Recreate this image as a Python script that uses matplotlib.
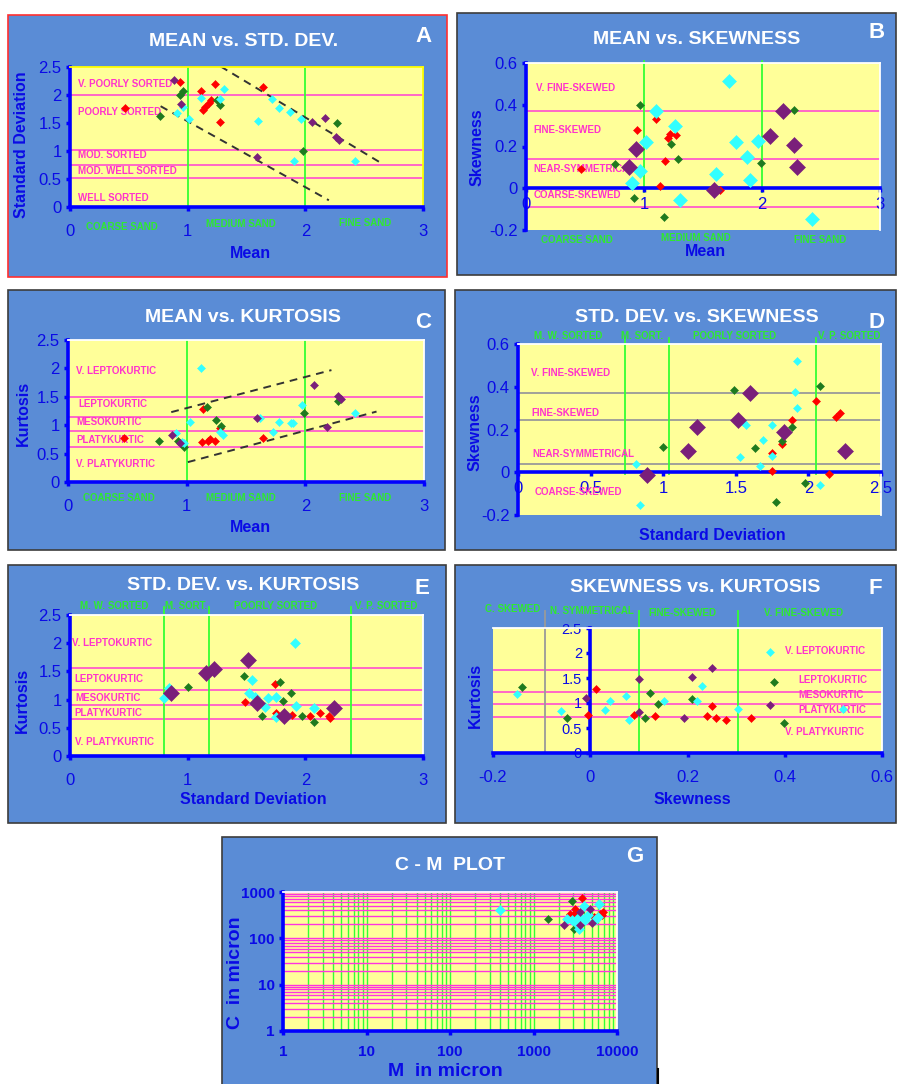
import numpy as np
import matplotlib.pyplot as plt
from matplotlib.patches import Rectangle
from matplotlib.lines import Line2D

plt.rcParams['font.family'] = ['Liberation Sans', 'DejaVu Sans']

# ---------------------------------------------------------
# colours
# ---------------------------------------------------------
BLUE_BG = '#5A8CD6'
YELLOW = '#FFFF99'
AXIS_BLUE = '#0000FF'
TEXT_BLUE = '#0A0AE6'
PINK = '#FF5CCB'
PINK_TXT = '#FF33CC'
LIME = '#33FF33'
LIME_TXT = '#2EEA2E'
RED = '#FF0000'
GREEN = '#1F7A1F'
CYAN = '#33FFFF'
PURPLE = '#7A1F7A'

# ---------------------------------------------------------
# A: mean vs standard deviation
# ---------------------------------------------------------
a_red = [(0.47, 1.77), (0.935, 2.24), (1.11, 2.07), (1.13, 1.74), (1.15, 1.78),
         (1.18, 1.85), (1.20, 1.91), (1.23, 2.20), (1.275, 1.52), (1.64, 2.15)]
a_green = [(0.765, 1.625), (0.935, 2.00), (0.96, 2.08), (1.247, 1.91),
           (1.275, 1.82), (1.98, 1.00), (2.27, 1.50)]
a_cyan = [(0.907, 1.68), (0.963, 1.78), (1.015, 1.58), (1.11, 1.94), (1.275, 1.92),
          (1.31, 2.10), (1.60, 1.54), (1.72, 1.92), (1.78, 1.77), (1.87, 1.70),
          (1.96, 1.57), (1.90, 0.82), (2.42, 0.83)]
a_purple = [(0.884, 2.27), (0.94, 1.84), (1.59, 0.89), (2.06, 1.52), (2.17, 1.59),
            (2.26, 1.25), (2.29, 1.19)]
a_env_low = ([0.77, 2.20], [1.80, 0.12])
a_env_high = ([1.28, 2.64], [2.51, 0.79])
sort_limits = [2.0, 1.02, 0.75, 0.52]
sort_names = ['V. POORLY SORTED', 'POORLY SORTED', 'MOD. SORTED',
              'MOD. WELL SORTED', 'WELL SORTED']
sort_name_y = [2.20, 1.69, 0.92, 0.65, 0.16]
sand_names = ['COARSE SAND', 'MEDIUM SAND', 'FINE SAND']
sand_limits = [1, 2]

# ---------------------------------------------------------
# B: mean vs skewness
# ---------------------------------------------------------
b_red = [(0.47, 0.09), (0.94, 0.28), (1.10, 0.33), (1.136, 0.011), (1.18, 0.13),
         (1.206, 0.242), (1.22, 0.258), (1.27, 0.253), (1.64, -0.008)]
b_green = [(0.754, 0.115), (0.918, -0.049), (0.97, 0.40), (1.17, -0.14),
           (1.23, 0.21), (1.285, 0.142), (1.99, 0.119), (2.27, 0.377)]
b_cyan = [(0.896, 0.027), (0.966, 0.083), (1.02, 0.221), (1.10, 0.369), (1.26, 0.30),
          (1.305, -0.056), (1.61, 0.07), (1.72, 0.516), (1.78, 0.221), (1.87, 0.15),
          (1.90, 0.04), (1.97, 0.226), (2.42, -0.148)]
b_purple = [(0.875, 0.104), (0.93, 0.19), (1.59, -0.01), (2.07, 0.25), (2.18, 0.37),
            (2.27, 0.207), (2.30, 0.10)]
skew_limits = [0.37, 0.14, -0.09]
skew_names = ['V. FINE-SKEWED', 'FINE-SKEWED', 'NEAR-SYMMETRICAL', 'COARSE-SKEWED']

# ---------------------------------------------------------
# C: mean vs kurtosis
# ---------------------------------------------------------
c_red = [(0.47, 0.77), (1.13, 0.70), (1.14, 1.28), (1.18, 0.73), (1.20, 0.75),
         (1.24, 0.73), (1.28, 0.95), (1.64, 0.77)]
c_green = [(0.77, 0.73), (0.93, 0.73), (0.98, 0.61), (1.17, 1.32), (1.245, 1.10),
           (1.29, 0.98), (1.99, 1.21), (2.275, 1.43)]
c_cyan = [(0.91, 0.86), (0.96, 0.70), (0.98, 0.69), (1.025, 1.05), (1.12, 2.00),
          (1.28, 0.88), (1.31, 0.83), (1.62, 1.12), (1.73, 0.88), (1.78, 1.05),
          (1.88, 1.03), (1.90, 1.03), (1.97, 1.35), (2.42, 1.21)]
c_purple = [(0.88, 0.83), (0.94, 0.69), (1.59, 1.12), (2.07, 1.70), (2.18, 0.97),
            (2.275, 1.52), (2.30, 1.47)]
c_env_high = ([0.87, 2.22], [1.23, 1.97])
c_env_low = ([1.01, 2.60], [0.35, 1.24])
kurt_limits_c = [1.49, 1.14, 0.89, 0.61]
kurt_names = ['V. LEPTOKURTIC', 'LEPTOKURTIC', 'MESOKURTIC', 'PLATYKURTIC',
              'V. PLATYKURTIC']

# ---------------------------------------------------------
# D: standard deviation vs skewness
# ---------------------------------------------------------
d_red = [(1.75, 0.089), (1.75, 0.008), (1.82, 0.13), (1.89, 0.243), (2.05, 0.333),
         (2.19, 0.26), (2.22, 0.278), (2.14, -0.008)]
d_green = [(1.00, 0.118), (1.49, 0.385), (1.63, 0.113), (1.82, 0.144), (1.89, 0.212),
           (1.98, -0.052), (1.78, -0.141), (2.08, 0.403)]
d_cyan = [(0.81, 0.039), (0.84, -0.154), (1.53, 0.07), (1.55, 0.235), (1.57, 0.22),
          (1.67, 0.028), (1.69, 0.149), (1.75, 0.22), (1.75, 0.075), (1.92, 0.521),
          (1.91, 0.374), (1.92, 0.30), (2.08, -0.06)]
d_purple = [(0.89, -0.013), (1.17, 0.10), (1.23, 0.21), (1.515, 0.243), (1.60, 0.372),
            (1.83, 0.19), (2.25, 0.10)]
skew_limits_d = [0.372, 0.246, 0.039]
sd_limits_d = [0.738, 1.042, 2.05]
sd_names = ['M. W. SORTED', 'M. SORT.', 'POORLY SORTED', 'V. P. SORTED']

# ---------------------------------------------------------
# E: standard deviation vs kurtosis
# ---------------------------------------------------------
e_red = [(1.49, 0.95), (1.74, 1.28), (1.75, 0.77), (1.89, 0.725), (2.04, 0.715),
         (2.125, 0.756), (2.20, 0.715), (2.21, 0.67)]
e_green = [(1.00, 1.23), (1.48, 1.42), (1.63, 0.715), (1.785, 1.31), (1.81, 0.975),
           (1.88, 1.11), (1.97, 0.715), (2.07, 0.61)]
e_cyan = [(0.80, 1.02), (0.84, 1.21), (1.52, 1.12), (1.55, 1.34), (1.57, 1.05),
          (1.655, 0.875), (1.68, 1.02), (1.75, 1.05), (1.75, 0.686), (1.91, 2.00),
          (1.92, 0.885), (2.07, 0.845)]
e_purple = [(0.855, 1.11), (1.16, 1.465), (1.225, 1.54), (1.51, 1.70), (1.59, 0.945),
            (1.82, 0.715), (2.24, 0.845)]
kurt_limits_e = [1.554, 1.17, 0.904, 0.65]
sd_limits_e = [0.80, 1.18, 2.385]

# ---------------------------------------------------------
# F: skewness vs kurtosis
# ---------------------------------------------------------
f_red = [(-0.005, 0.77), (0.012, 1.29), (0.091, 0.76), (0.133, 0.74), (0.241, 0.74),
         (0.25, 0.94), (0.259, 0.70), (0.28, 0.66), (0.33, 0.70)]
f_green = [(-0.14, 1.32), (-0.048, 0.70), (0.112, 0.70), (0.122, 1.21), (0.14, 0.99),
           (0.209, 1.09), (0.377, 1.42), (0.398, 0.60)]
f_cyan = [(-0.15, 1.19), (-0.06, 0.84), (0.031, 0.86), (0.041, 1.04), (0.074, 1.14),
          (0.08, 0.67), (0.151, 1.04), (0.22, 1.05), (0.229, 1.34), (0.303, 0.88),
          (0.37, 2.03), (0.52, 0.88)]
f_purple = [(-0.008, 1.11), (0.10, 1.48), (0.10, 0.82), (0.193, 0.70), (0.209, 1.53),
            (0.25, 1.70), (0.37, 0.96)]
kurt_limits_f = [1.66, 1.23, 0.99, 0.724]
skew_limits_f = [-0.094, 0.101, 0.303]
skew_classes = ['C. SKEWED', 'N. SYMMETRICAL', 'FINE-SKEWED', 'V. FINE-SKEWED']

# ---------------------------------------------------------
# G: C-M plot (microns)
# ---------------------------------------------------------
g_red = [(3820, 757), (3113, 424), (3027, 342), (5250, 290), (6637, 315),
         (6823, 370), (6300, 340), (2700, 330)]
g_green = [(1476, 267), (2897, 640), (3027, 162), (3500, 300)]
g_cyan = [(398, 404), (2523, 267), (2897, 245), (3327, 267), (3648, 290), (3981, 499),
          (4188, 245), (5521, 245), (5900, 290), (6026, 543), (3475, 162), (3200, 210),
          (4500, 320)]
g_purple = [(2296, 198), (3648, 370), (3648, 198), (4710, 438), (5035, 215)]

# tick values / labels
ticks_0_3 = [0, 1, 2, 3]
ticks_0_25 = [0, 0.5, 1, 1.5, 2, 2.5]
ticks_skew = [-0.2, 0, 0.2, 0.4, 0.6]
ticks_sd_d = [0, 0.5, 1, 1.5, 2, 2.5]
ticks_log_x = [1, 10, 100, 1000, 10000]
ticks_log_y = [1, 10, 100, 1000]


def lab(vals):
    return ['%g' % v for v in vals]


# ---------------------------------------------------------
# figure helpers (pixel based layout)
# ---------------------------------------------------------
W, H = 898, 1084
fig = plt.figure(figsize=(W / 100, H / 100), dpi=100)
fig.patch.set_facecolor('white')


def frame(l, t, r, b, edge='#3C3C3C'):
    fig.add_artist(Rectangle((l / W, 1 - b / H), (r - l) / W, (b - t) / H,
                             transform=fig.transFigure, facecolor=BLUE_BG,
                             edgecolor=edge, lw=1.2, zorder=-1))


def ftext(x, y, s, **kw):
    fig.text(x / W, 1 - y / H, s, **kw)


def panel_title(cx, cy, title, lx, ly, letter):
    ftext(cx, cy, title, color='white', fontsize=14, fontweight='bold',
          ha='center', va='center')
    ftext(lx, ly, letter, color='white', fontsize=16, fontweight='bold',
          ha='center', va='center')


def axis_label(x, y, s, rot=0, size=11.5):
    ftext(x, y, s, color=TEXT_BLUE, fontsize=size, fontweight='bold',
          ha='center', va='center', rotation=rot)


def plot_area(l, t, r, b, edge='white'):
    ax = fig.add_axes([l / W, 1 - b / H, (r - l) / W, (b - t) / H])
    ax.set_facecolor(YELLOW)
    for s in ('left', 'bottom'):
        ax.spines[s].set_color(AXIS_BLUE)
        ax.spines[s].set_linewidth(2.6)
    for s in ('top', 'right'):
        ax.spines[s].set_color(edge)
        ax.spines[s].set_linewidth(1.3)
    ax.tick_params(colors=AXIS_BLUE, labelcolor=TEXT_BLUE, labelsize=12,
                   direction='out', length=3, width=2.5, pad=3)
    return ax


def draw_points(ax, groups, sizes):
    for pts, col, ms in zip(groups, (RED, GREEN, CYAN, PURPLE), sizes):
        xs, ys = zip(*pts)
        ax.plot(xs, ys, 'D', color=col, ms=ms, mew=0.4, ls='none', zorder=4,
                clip_on=False)


def hlines(ax, ys, color=PINK):
    for y in ys:
        ax.axhline(y, color=color, lw=1.3, zorder=1)


def vlines(ax, xs, y0, y1, color=LIME):
    for x in xs:
        ax.plot([x, x], [y0, y1], color=color, lw=1.3, zorder=1, clip_on=False)


def class_text(ax, x, y, s, color=PINK_TXT, ha='left'):
    ax.text(x, y, s, color=color, fontsize=7, fontweight='bold', ha=ha,
            va='center', zorder=2, clip_on=False)


def dashed(ax, line):
    ax.plot(line[0], line[1], color='#333333', lw=1.4, ls=(0, (4, 3)), zorder=2)


SMALL = 4.3

# =========================================================
# A  MEAN vs. STD. DEV.
# =========================================================
frame(8, 15, 447, 277, edge='#FF3030')
panel_title(244, 42, 'MEAN vs. STD. DEV.', 423, 36, 'A')
ax = plot_area(70, 67, 423, 207, edge='#FFFF00')
ax.set_xlim(0, 3)
ax.set_ylim(0, 2.5)
ax.set_xticks(ticks_0_3, lab(ticks_0_3))
ax.set_yticks(ticks_0_25, lab(ticks_0_25))
ax.tick_params(axis='x', pad=9)
hlines(ax, sort_limits)
vlines(ax, sand_limits, 0, 2.5)
dashed(ax, a_env_low)
dashed(ax, a_env_high)
for name, y in zip(sort_names, sort_name_y):
    class_text(ax, 0.07, y, name)
for name, x, y in zip(sand_names, [0.44, 1.45, 2.51], [-0.36, -0.30, -0.28]):
    class_text(ax, x, y, name, color=LIME_TXT, ha='center')
draw_points(ax, [a_red, a_green, a_cyan, a_purple], [SMALL] * 4)
axis_label(250, 254, 'Mean')
axis_label(22, 145, 'Standard Deviation', rot=90)

# =========================================================
# B  MEAN vs. SKEWNESS
# =========================================================
frame(457, 13, 896, 275)
panel_title(697, 39, 'MEAN vs. SKEWNESS', 877, 33, 'B')
ax = plot_area(526, 63, 880, 230)
ax.set_xlim(0, 3)
ax.set_ylim(-0.2, 0.6)
ax.spines['bottom'].set_position(('data', 0))
ax.set_xticks(ticks_0_3, lab(ticks_0_3))
ax.set_yticks(ticks_skew, lab(ticks_skew))
hlines(ax, skew_limits)
vlines(ax, sand_limits, -0.02, 0.61)
for name, y in zip(skew_names, [0.48, 0.28, 0.09, -0.03]):
    class_text(ax, 0.065 if name != 'V. FINE-SKEWED' else 0.085, y, name)
for name, x, y in zip(sand_names, [0.43, 1.44, 2.49], [-0.247, -0.24, -0.25]):
    class_text(ax, x, y, name, color=LIME_TXT, ha='center')
draw_points(ax, [b_red, b_green, b_cyan, b_purple], [4, 4, 7.5, 8])
axis_label(705, 252, 'Mean')
axis_label(477, 147, 'Skewness', rot=90)

# =========================================================
# C  MEAN vs. KURTOSIS
# =========================================================
frame(8, 290, 445, 550)
panel_title(243, 317, 'MEAN vs. KURTOSIS', 423, 322, 'C')
ax = plot_area(68, 340, 424, 482)
ax.set_xlim(0, 3)
ax.set_ylim(0, 2.5)
ax.set_xticks(ticks_0_3, lab(ticks_0_3))
ax.set_yticks(ticks_0_25, lab(ticks_0_25))
ax.tick_params(axis='x', pad=9)
hlines(ax, kurt_limits_c)
vlines(ax, sand_limits, 0, 2.5)
dashed(ax, c_env_high)
dashed(ax, c_env_low)
for name, x, y in zip(kurt_names, [0.07, 0.085, 0.07, 0.07, 0.07],
                      [1.96, 1.37, 1.05, 0.74, 0.32]):
    class_text(ax, x, y, name)
for name, x in zip(sand_names, [0.43, 1.46, 2.5]):
    class_text(ax, x, -0.29, name, color=LIME_TXT, ha='center')
draw_points(ax, [c_red, c_green, c_cyan, c_purple], [SMALL] * 4)
axis_label(250, 527, 'Mean')
axis_label(23, 413, 'Kurtosis', rot=90)

# =========================================================
# D  STD. DEV. vs. SKEWNESS
# =========================================================
frame(455, 290, 896, 550)
panel_title(697, 317, 'STD. DEV. vs. SKEWNESS', 877, 322, 'D')
ax = plot_area(518, 344, 881, 515)
ax.set_xlim(0, 2.5)
ax.set_ylim(-0.2, 0.6)
ax.spines['bottom'].set_position(('data', 0))
ax.set_xticks(ticks_sd_d, lab(ticks_sd_d))
ax.set_yticks(ticks_skew, lab(ticks_skew))
hlines(ax, skew_limits_d, color='#9A9A9A')
vlines(ax, sd_limits_d, -0.01, 0.63)
for name, x, y in zip(skew_names, [0.092, 0.092, 0.10, 0.115],
                      [0.463, 0.275, 0.086, -0.092]):
    class_text(ax, x, y, name)
for name, x in zip(sd_names, [0.346, 0.858, 1.49, 2.28]):
    class_text(ax, x, 0.638, name, color=LIME_TXT, ha='center')
draw_points(ax, [d_red, d_green, d_cyan, d_purple], [4, 4, 4, 8])
axis_label(712, 536, 'Standard Deviation')
axis_label(475, 432, 'Skewness', rot=90)

# =========================================================
# E  STD. DEV. vs. KURTOSIS
# =========================================================
frame(8, 565, 446, 823)
panel_title(243, 585, 'STD. DEV. vs. KURTOSIS', 422, 588, 'E')
ax = plot_area(70, 615, 423, 756)
ax.set_xlim(0, 3)
ax.set_ylim(0, 2.5)
ax.set_xticks(ticks_0_3, lab(ticks_0_3))
ax.set_yticks(ticks_0_25, lab(ticks_0_25))
ax.tick_params(axis='x', pad=9)
hlines(ax, kurt_limits_e)
vlines(ax, sd_limits_e, 0, 2.65)
for name, x, y in zip(kurt_names, [0.02, 0.04, 0.048, 0.04, 0.04],
                      [2.0, 1.36, 1.02, 0.77, 0.25]):
    class_text(ax, x, y, name)
for name, x in zip(sd_names, [0.374, 0.983, 1.75, 2.69]):
    class_text(ax, x, 2.66, name, color=LIME_TXT, ha='center')
draw_points(ax, [e_red, e_green, e_cyan, e_purple], [SMALL, SMALL, 4.8, 8])
axis_label(253, 800, 'Standard Deviation')
axis_label(22, 700, 'Kurtosis', rot=90)

# =========================================================
# F  SKEWNESS vs. KURTOSIS
# =========================================================
frame(455, 565, 896, 823)
panel_title(695, 587, 'SKEWNESS vs. KURTOSIS', 875, 588, 'F')
ax = plot_area(493, 628, 882, 753)
ax.set_xlim(-0.2, 0.6)
ax.set_ylim(0, 2.5)
ax.spines['left'].set_position(('data', 0))
ax.set_xticks(ticks_skew, lab(ticks_skew))
ax.set_yticks(ticks_0_25, lab(ticks_0_25))
ax.tick_params(axis='x', pad=9)
ax.tick_params(axis='y', labelsize=10.5)
hlines(ax, kurt_limits_f)
vlines(ax, skew_limits_f[:1], 0, 2.84, color='#9A9A9A')
vlines(ax, skew_limits_f[1:], 0, 2.84)
for name, x, y in zip(kurt_names, [0.40, 0.428, 0.428, 0.428, 0.40],
                      [2.03, 1.46, 1.16, 0.86, 0.42]):
    class_text(ax, x, y, name)
for name, x, y in zip(skew_classes, [-0.159, 0.003, 0.19, 0.439],
                      [2.87, 2.84, 2.81, 2.80]):
    class_text(ax, x, y, name, color=LIME_TXT, ha='center')
draw_points(ax, [f_red, f_green, f_cyan, f_purple], [4, 4, 4, 4])
axis_label(692, 800, 'Skewness')
axis_label(475, 695, 'Kurtosis', rot=90)

# =========================================================
# G  C - M PLOT
# =========================================================
frame(222, 837, 657, 1090)
panel_title(450, 865, 'C - M  PLOT', 635, 857, 'G')
ax = plot_area(283, 892, 617, 1031)
ax.set_xscale('log')
ax.set_yscale('log')
ax.set_xlim(1, 10000)
ax.set_ylim(1, 1000)
for dec in (1, 10, 100, 1000):
    for m in range(1, 10):
        ax.axvline(m * dec, color=LIME, lw=1.0, zorder=1)
for dec in (1, 10, 100):
    for m in range(1, 10):
        ax.axhline(m * dec, color='#FF33E0', lw=1.0, zorder=1)
ax.axhline(1000, color='#FF33E0', lw=1.0, zorder=1)
ax.set_xticks(ticks_log_x, lab(ticks_log_x))
ax.set_yticks(ticks_log_y, lab(ticks_log_y))
ax.minorticks_off()
for t in ax.get_xticklabels() + ax.get_yticklabels():
    t.set_fontweight('bold')
    t.set_fontsize(11)
ax.tick_params(axis='x', pad=7)
draw_points(ax, [g_red, g_green, g_cyan, g_purple], [4.5, 4.5, 5, 4.5])
axis_label(445, 1071, 'M  in micron', size=14)
axis_label(235, 973, 'C  in micron', rot=90, size=14)

fig.add_artist(Line2D([658 / W, 658 / W], [1 - 1069 / H, 0], color='black', lw=1.5,
                      transform=fig.transFigure))

fig.savefig('out.png', dpi=100)
